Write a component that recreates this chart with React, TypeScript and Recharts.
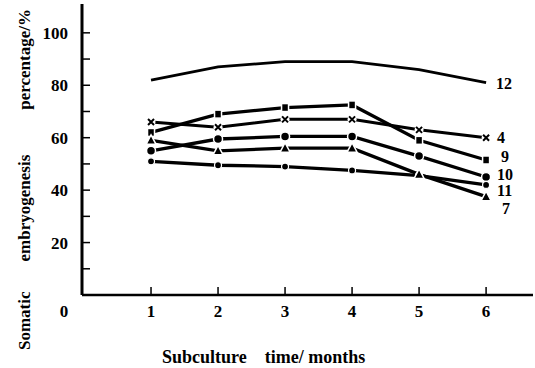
import React from "react";
import { LabelList, Line, LineChart, XAxis, YAxis } from "recharts";

const MONTHS = [1, 2, 3, 4, 5, 6];
const Y_TICKS = [0, 10, 20, 30, 40, 50, 60, 70, 80, 90, 100];
const Y_LABELED = [0, 20, 40, 60, 80, 100];

// somatic embryogenesis percentage (%) per line
const LINE_12 = [82, 87, 89, 89, 86, 81];
const LINE_4 = [66, 64, 67, 67, 63, 60];
const LINE_9 = [62, 69, 71.5, 72.5, 59, 51.5];
const LINE_10 = [55, 59.5, 60.5, 60.5, 53, 45];
const LINE_7 = [59, 55, 56, 56, 46, 37.5];
const LINE_11 = [51, 49.5, 49, 47.5, 45.5, 42];

const FONT = '"Liberation Serif", "Times New Roman", serif';

const rows = MONTHS.map((month, i) => ({
  month,
  l12: LINE_12[i],
  l4: LINE_4[i],
  l9: LINE_9[i],
  l10: LINE_10[i],
  l7: LINE_7[i],
  l11: LINE_11[i],
}));

type Shape = "none" | "cross" | "square" | "circle" | "triangle" | "dot";

const SERIES: { key: string; name: string; shape: Shape; dx: number; dy: number; width: number }[] = [
  { key: "l12", name: "12", shape: "none", dx: 10, dy: 6, width: 2.8 },
  { key: "l4", name: "4", shape: "cross", dx: 11, dy: 5, width: 3 },
  { key: "l9", name: "9", shape: "square", dx: 15, dy: 2, width: 3.3 },
  { key: "l10", name: "10", shape: "circle", dx: 11, dy: 3, width: 3.3 },
  { key: "l11", name: "11", shape: "dot", dx: 11, dy: 11, width: 3.3 },
  { key: "l7", name: "7", shape: "triangle", dx: 16, dy: 17, width: 3.3 },
];

const Marker = ({ cx, cy, shape }: { cx?: number; cy?: number; shape: Shape }) => {
  if (cx == null || cy == null || shape === "none") return null;
  if (shape === "cross") {
    return (
      <g>
        <circle cx={cx} cy={cy} r={4.5} fill="#fff" />
        <path d={`M${cx - 3},${cy - 3}L${cx + 3},${cy + 3}M${cx + 3},${cy - 3}L${cx - 3},${cy + 3}`} stroke="#000" strokeWidth={2} />
      </g>
    );
  }
  if (shape === "square") {
    return <rect x={cx - 3.5} y={cy - 4} width={7} height={8} fill="#000" stroke="#fff" strokeWidth={1.5} />;
  }
  if (shape === "circle") {
    return <circle cx={cx} cy={cy} r={4.5} fill="#000" stroke="#fff" strokeWidth={1.5} />;
  }
  if (shape === "triangle") {
    return (
      <path
        d={`M${cx},${cy - 5.5}L${cx + 5},${cy + 4}L${cx - 5},${cy + 4}Z`}
        fill="#000"
        stroke="#fff"
        strokeWidth={1.5}
      />
    );
  }
  return <circle cx={cx} cy={cy} r={3.5} fill="#000" stroke="#fff" strokeWidth={1.2} />;
};

const XTick = (props: any) => {
  const { x, y, payload } = props;
  return (
    <g>
      <line x1={x} y1={y} x2={x} y2={y - 8} stroke="#000" strokeWidth={1.5} />
      <text x={x} y={y + 22} textAnchor="middle" fontFamily={FONT} fontWeight="bold" fontSize={17} fill="#000">
        {payload.value}
      </text>
    </g>
  );
};

const YTick = (props: any) => {
  const { x, y, payload } = props;
  const v = payload.value as number;
  if (v === 0) {
    return (
      <text x={x - 18} y={y + 22} textAnchor="middle" fontFamily={FONT} fontWeight="bold" fontSize={17} fill="#000">
        0
      </text>
    );
  }
  return (
    <g>
      <line x1={x} y1={y} x2={x + 8} y2={y} stroke="#000" strokeWidth={1.5} />
      {Y_LABELED.includes(v) ? (
        <text x={x - 14} y={y + 6} textAnchor="end" fontFamily={FONT} fontWeight="bold" fontSize={17} fill="#000">
          {v}
        </text>
      ) : null}
    </g>
  );
};

const endLabel = (name: string, dx: number, dy: number) => (props: any) => {
  const { x, y, index } = props;
  if (index !== MONTHS.length - 1 || x == null || y == null) return null;
  return (
    <text x={x + dx} y={y + dy} fontFamily={FONT} fontWeight="bold" fontSize={16} fill="#000">
      {name}
    </text>
  );
};

export default function App() {
  return (
    <div style={{ position: "absolute", left: 0, top: 0, background: "#fff" }}>
      <LineChart width={535} height={368} data={rows} margin={{ top: 4, right: 2, bottom: 0, left: 0 }}>
        <XAxis
          dataKey="month"
          type="number"
          domain={[-0.03, 6.7]}
          ticks={MONTHS}
          height={73}
          tickSize={0}
          tickMargin={0}
          tickLine={false}
          axisLine={{ stroke: "#000", strokeWidth: 2.5 }}
          tick={<XTick />}
          allowDataOverflow
        />
        <YAxis
          type="number"
          domain={[0, 111]}
          ticks={Y_TICKS}
          width={82}
          tickSize={0}
          tickMargin={0}
          tickLine={false}
          axisLine={{ stroke: "#000", strokeWidth: 3 }}
          tick={<YTick />}
          allowDataOverflow
        />
        {SERIES.map((s) => (
          <Line
            key={s.key}
            dataKey={s.key}
            type="linear"
            stroke="#000"
            strokeWidth={s.width}
            isAnimationActive={false}
            dot={(p: any) => <Marker key={`${s.key}-${p.index}`} cx={p.cx} cy={p.cy} shape={s.shape} />}
            activeDot={false}
          >
            <LabelList dataKey={s.key} content={endLabel(s.name, s.dx, s.dy)} />
          </Line>
        ))}
        <text
          transform="translate(30, 350) rotate(-90)"
          fontFamily={FONT}
          fontWeight="bold"
          fontSize={17}
          fill="#000"
        >
          <tspan>Somatic</tspan>
          <tspan dx={30}>embryogenesis</tspan>
          <tspan dx={45}>percentage/%</tspan>
        </text>
        <text x={162} y={363} fontFamily={FONT} fontWeight="bold" fontSize={18} fill="#000">
          <tspan>Subculture</tspan>
          <tspan dx={18}>time/ months</tspan>
        </text>
      </LineChart>
    </div>
  );
}
